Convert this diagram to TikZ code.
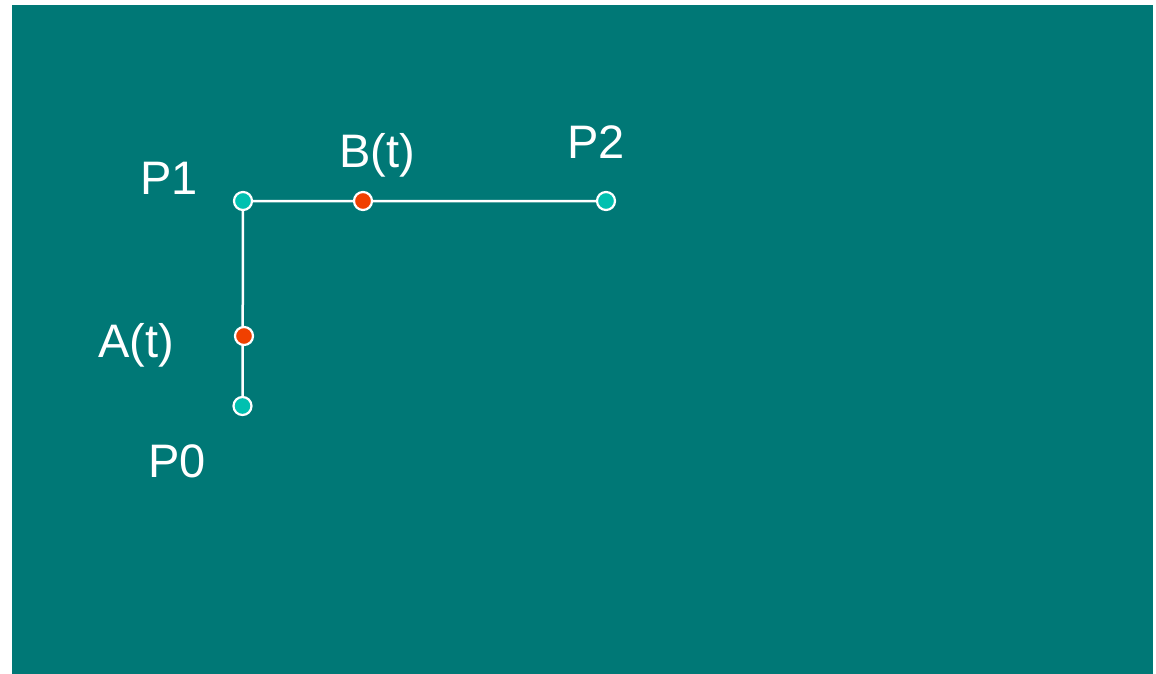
\documentclass[tikz,border=0pt]{standalone}
\usepackage{fontspec}
\setmainfont{Liberation Sans}
\definecolor{bgteal}{RGB}{0,120,118}
\definecolor{ptcyan}{RGB}{0,192,176}
\definecolor{ptred}{RGB}{240,64,0}
\tikzset{
  lbl/.style={text=white, font=\fontsize{47}{47}\selectfont, anchor=base, inner sep=0pt},
  ctrlpt/.style={circle, fill=ptcyan, draw=white, line width=2.2pt, minimum size=18pt, inner sep=0pt},
  movpt/.style={circle, fill=ptred, draw=white, line width=2.2pt, minimum size=18pt, inner sep=0pt},
  seg/.style={white, line width=2.5pt}
}
\begin{document}
\begin{tikzpicture}[x=1pt,y=-1pt]
\useasboundingbox (0,0) rectangle (1156,674);
\fill[white] (0,0) rectangle (1156,674);
\fill[bgteal] (12,5) rectangle (1153,674);
% points
\coordinate (cP1) at (243,201);
\coordinate (cP2) at (606,201);
\coordinate (cP0) at (242.5,406);
\draw[seg] (cP0) -- (cP1) -- (cP2);
\node[ctrlpt] (P1) at (cP1) {};
\node[ctrlpt] (P2) at (cP2) {};
\node[ctrlpt] (P0) at (cP0) {};
\node[movpt] (B) at (363,201) {};
\node[movpt] (A) at (244,336) {};
% labels
\node[lbl] (lP1) at (169,194) {P1};
\node[lbl] (lB) at (377,167) {B(t)};
\node[lbl] (lP2) at (596,158) {P2};
\node[lbl] (lA) at (136,357) {A(t)};
\node[lbl] (lP0) at (177,477) {P0};
\end{tikzpicture}
\end{document}
